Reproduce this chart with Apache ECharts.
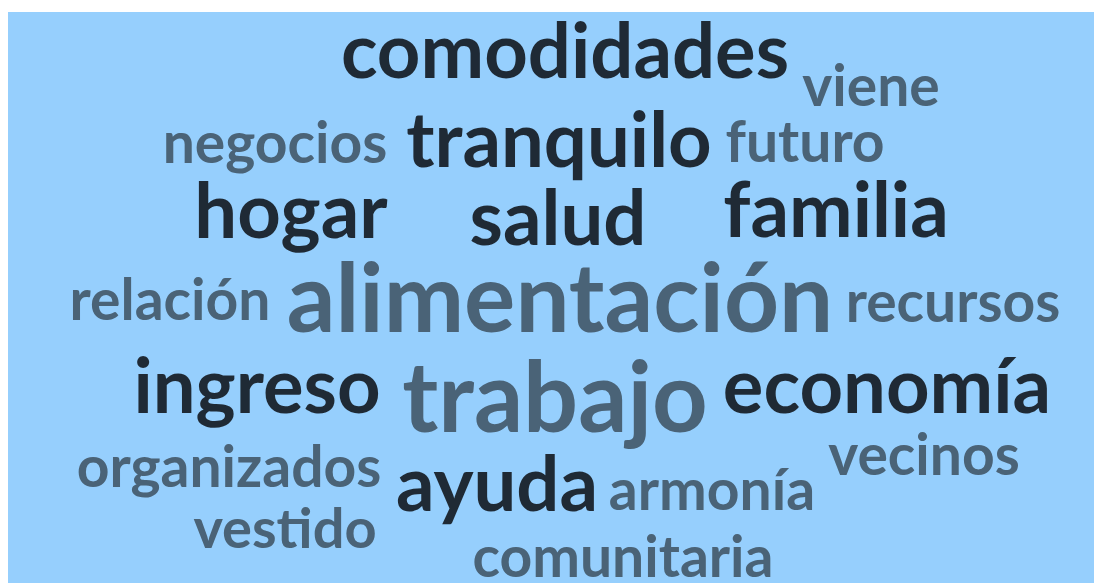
<!DOCTYPE html>
<html>
<head>
<meta charset="utf-8">
<script src="https://cdn.jsdelivr.net/npm/echarts@6/dist/echarts.min.js"></script>
<style>
html,body{margin:0;padding:0;background:#ffffff;}
#chart{width:1094px;height:583px;}
</style>
</head>
<body>
<div id="chart"></div>
<script>
// Word cloud data
var words   = ['comodidades','viene','negocios','tranquilo','futuro','hogar','salud','familia','relación','alimentación','recursos','ingreso','trabajo','economía','organizados','vecinos','ayuda','armonía','vestido','comunitaria'];
var weights = [76, 57, 57, 76, 57, 76, 76, 76, 57, 96, 57, 76, 97, 76, 57, 57, 76, 57, 56, 57];
var tones   = ['dark','light','light','dark','light','dark','dark','dark','light','light','light','dark','light','dark','light','light','dark','light','light','light'];
// layout of the cloud (word centre x, baseline y) in cloud units
var layoutX = [565, 871, 275, 559, 805, 291, 558, 836, 170, 560, 953, 257, 555, 887, 229, 924, 497, 712, 285, 623];
var layoutY = [78, 106, 163, 167, 162, 238, 245, 237, 320, 332, 322, 413, 432, 413, 487, 475, 511, 510, 548, 577];

var toneColor = {dark: '#1f2a35', light: '#4a6377'};

var data = words.map(function (w, i) {
  var fs = weights[i];
  return {
    name: w,
    value: [layoutX[i], layoutY[i] - 0.32 * fs],
    label: {fontSize: fs, color: toneColor[tones[i]]}
  };
});

var chart = echarts.init(document.getElementById('chart'));
chart.setOption({
  animation: false,
  grid: {left: 8, top: 12, right: 0, bottom: 0, show: true, backgroundColor: '#96cffd', borderWidth: 0},
  xAxis: {type: 'value', min: 8, max: 1094, show: false},
  yAxis: {type: 'value', min: 12, max: 583, inverse: true, show: false},
  series: [{
    type: 'scatter',
    symbolSize: 0,
    itemStyle: {opacity: 1},
    emphasis: {disabled: true},
    data: data,
    label: {
      show: true,
      opacity: 1,
      position: 'inside',
      formatter: '{b}',
      fontFamily: 'Lato',
      fontWeight: 'bold',
      align: 'center',
      verticalAlign: 'middle'
    }
  }]
});
</script>
</body>
</html>
